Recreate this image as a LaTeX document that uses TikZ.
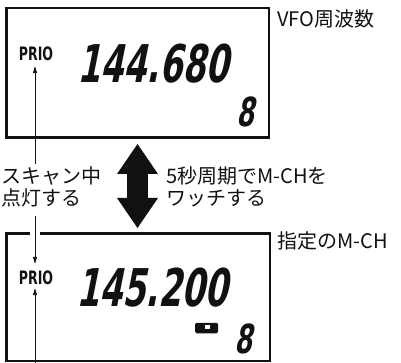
\documentclass[tikz,border=0pt]{standalone}
\usepackage{fontspec}
\usepackage{xcolor}
\setmainfont{Noto Sans CJK JP}
\newfontfamily\lcdfont[FakeSlant=0.2,FakeStretch=0.64]{DejaVu Sans}
\newfontfamily\priofont[FakeStretch=0.68]{DejaVu Sans}
\usetikzlibrary{arrows.meta}
\definecolor{manualink}{HTML}{111111}

\begin{document}
\begin{tikzpicture}[
  x=1pt,
  y=-1pt,
  every node/.style={inner sep=0pt, manualink},
  lcdbox/.style={draw=manualink, line width=2.5pt},
  caption/.style={font=\fontsize{20}{22}\selectfont, anchor=west, align=left},
  prio/.style={font=\priofont\bfseries\fontsize{18.5}{18.5}\selectfont},
  freq/.style={font=\lcdfont\bfseries\fontsize{52}{52}\selectfont},
  chan/.style={font=\lcdfont\bfseries\fontsize{40}{40}\selectfont},
  pointer/.style={manualink, line width=0.9pt, -{Triangle[length=7pt, width=4pt]}},
  swap/.style={manualink, line width=21pt,
    {Triangle[length=30pt, width=41pt, line width=0pt]}-{Triangle[length=30pt, width=41pt, line width=0pt]}}
]
  \useasboundingbox (0,0) rectangle (401,363);

  % ================= upper display: the VFO frequency ===================
  \node[lcdbox, minimum width=262.5pt, minimum height=129.5pt] (vfo) at (137.5,73) {};
  \node[prio] (vfoprio) at (36,54) {PRIO};
  \node[freq] (vfofreq) at (153,64) {144.680};
  \node[chan] (vfochan) at (245,112) {8};
  \node[caption] (vfolbl) at (277,19) {VFO周波数};

  % ================= lower display: the watched M-CH ====================
  \node[lcdbox, minimum width=263.5pt, minimum height=127.5pt] (mch) at (138,297) {};
  \node[prio] (mchprio) at (36,278) {PRIO};
  \node[freq] (mchfreq) at (152,288) {145.200};
  \node[fill=manualink, rounded corners=1.5pt, minimum width=23pt,
        minimum height=10.5pt] (memicon) at (206.5,328) {};
  \fill[white] (205,324.5) rectangle (209.5,329);
  \node[chan] (mchchan) at (243,339) {8};
  \node[caption] (mchlbl) at (277,241) {指定のM-CH};

  % ================= the captions between ===============================
  \node[caption] (scanlbl) at (1,187) {スキャン中\\点灯する};
  \node[caption] (watchlbl) at (166,187) {5秒周期でM-CHを\\ワッチする};

  % ================= pointers to PRIO ===================================
  \coordinate (vfotail) at (35,164);
  \coordinate (scantail) at (35,216);
  \coordinate (mchtail) at (35,363);
  \draw[pointer] (vfotail) -- ([yshift=-5pt]vfotail |- vfoprio.south);
  % the lower frame is broken where the pointer passes it
  \fill[white] (30,230) rectangle (40,238);
  \draw[pointer] (scantail) -- ([yshift=7pt]scantail |- mchprio.north);
  \draw[pointer] (mchtail) -- ([yshift=-3pt]mchtail |- mchprio.south);

  % ================= the fat double arrow ===============================
  \draw[swap] ([yshift=-5pt]vfo.south) -- ([yshift=4pt]mch.north -| vfo.south);
\end{tikzpicture}
\end{document}
